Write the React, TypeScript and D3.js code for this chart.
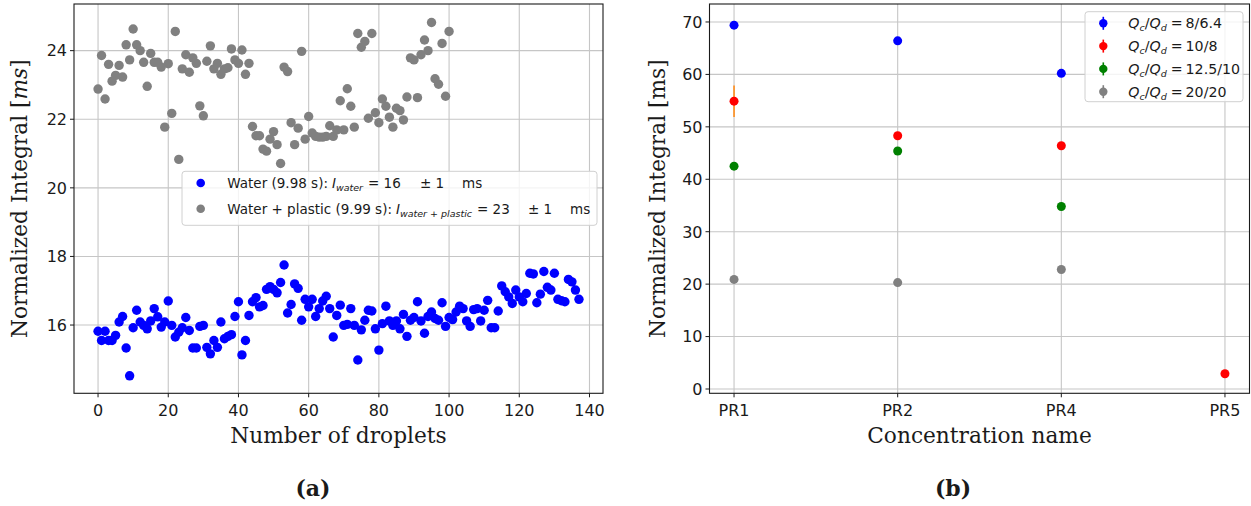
import React from 'react';
import * as d3 from 'd3';

// (a) normalized integral per droplet
const waterVals = [
  15.82, 15.55, 15.82, 15.55, 15.55, 15.7, 16.09, 16.25, 15.33, 14.52,
  15.92, 16.43, 16.09, 15.99, 15.89, 16.12, 16.48, 16.24, 15.94, 16.09,
  16.7, 15.99, 15.65, 15.79, 15.92, 16.22, 15.84, 15.33, 15.33, 15.96,
  15.99, 15.35, 15.16, 15.55, 15.35, 16.09, 15.6, 15.67, 15.72, 16.25,
  16.68, 15.13, 15.55, 16.28, 16.68, 16.8, 16.53, 16.57, 17.04, 17.12,
  17.04, 16.94, 17.24, 17.75, 16.35, 16.6, 17.2, 17.07, 16.14, 16.75,
  16.53, 16.75, 16.25, 16.48, 16.7, 16.84, 16.48, 15.65, 16.28, 16.58,
  15.99, 16.02, 16.48, 15.99, 14.98, 15.86, 16.14, 16.43, 16.41, 15.89,
  15.27, 16.04, 16.55, 16.12, 15.99, 16.12, 15.89, 16.31, 15.67, 16.14,
  16.22, 16.68, 16.12, 15.76, 16.25, 16.38, 16.19, 16.14, 16.65, 15.96,
  16.22, 16.16, 16.38, 16.55, 16.48, 16.12, 15.96, 16.45, 16.48, 16.12,
  16.43, 16.72, 15.92, 15.92, 16.41, 17.14, 16.97, 16.82, 16.63, 17.02,
  16.82, 16.68, 16.92, 17.51, 17.49, 16.65, 16.9, 17.56, 17.1, 17.02,
  17.51, 16.75, 16.71, 16.68, 17.33, 17.26, 17.02, 16.75,
];

const plasticVals = [
  22.88, 23.86, 22.59, 23.6, 23.11, 23.28, 23.57, 23.23, 24.17, 23.73,
  24.63, 24.17, 24.0, 23.66, 22.96, 23.92, 23.66, 23.66, 23.52, 21.77,
  23.62, 22.17, 24.56, 20.83, 23.47, 23.88, 23.37, 23.79, 23.63, 22.39,
  22.1, 23.69, 24.14, 23.47, 23.63, 23.31, 23.47, 23.5, 24.05, 23.73,
  23.63, 24.02, 23.31, 23.63, 21.79, 21.52, 21.52, 21.13, 21.07, 21.42,
  21.64, 21.26, 20.71, 23.52, 23.39, 21.9, 21.26, 21.74, 23.98, 21.42,
  22.08, 21.6, 21.5, 21.48, 21.48, 21.5, 21.81, 21.5, 21.69, 22.54,
  21.69, 22.89, 22.38, 21.77, 24.5, 24.1, 24.27, 22.03, 24.5, 22.19,
  21.9, 22.59, 22.38, 22.06, 21.77, 22.32, 22.25, 21.98, 22.65, 23.79,
  23.73, 22.63, 23.88, 24.31, 24.0, 24.82, 23.18, 23.02, 24.21, 22.67,
  24.56,
];

const dropletTicks = [0, 20, 40, 60, 80, 100, 120, 140];
const integralTicksA = [16, 18, 20, 22, 24];

// (b) normalized integral per concentration
const concNames = ['PR1', 'PR2', 'PR4', 'PR5'];
const flowLabels = ['8/6.4', '10/8', '12.5/10', '20/20'];
const flowColors = ['#0000ff', '#ff0000', '#008000', '#808080'];
const flow1Vals = [69.4, 66.4, 60.2, null];
const flow2Vals = [54.9, 48.3, 46.4, 2.9];
const flow3Vals = [42.5, 45.4, 34.8, null];
const flow4Vals = [20.9, 20.3, 22.8, null];
const flow1Err = [0.3, 0.3, 0.3, null];
const flow2Err = [3.0, 0.4, 0.3, 0.3];
const flow3Err = [0.3, 0.3, 0.3, null];
const flow4Err = [0.3, 0.3, 0.3, null];
const integralTicksB = [0, 10, 20, 30, 40, 50, 60, 70];

const SANS = 'DejaVu Sans, sans-serif';
const SERIF = 'DejaVu Serif, serif';
const GRID = '#c6c6c6';
const INK = '#1a1a1a';
const TICK_FS = 16;
const LABEL_FS = 21.7;

const ChartA = () => {
  const left = 74, right = 603, top = 4, bottom = 393.3;
  const x = d3.scaleLinear().domain([-6.85, 143.85]).range([left, right]);
  const y = d3.scaleLinear().domain([14.01, 25.36]).range([bottom, top]);

  return (
    <g>
      {dropletTicks.map(t => (
        <line key={'gx' + t} x1={x(t)} x2={x(t)} y1={top} y2={bottom} stroke={GRID} strokeWidth={1.1} />
      ))}
      {integralTicksA.map(t => (
        <line key={'gy' + t} x1={left} x2={right} y1={y(t)} y2={y(t)} stroke={GRID} strokeWidth={1.1} />
      ))}

      {waterVals.map((v, i) => (
        <circle key={'w' + i} cx={x(i)} cy={y(v)} r={4.7} fill="#0000ff" />
      ))}
      {plasticVals.map((v, i) => (
        <circle key={'p' + i} cx={x(i)} cy={y(v)} r={4.7} fill="#808080" />
      ))}

      <rect x={left} y={top} width={right - left} height={bottom - top} fill="none" stroke={INK} strokeWidth={1.1} />

      {dropletTicks.map(t => (
        <g key={'tx' + t}>
          <line x1={x(t)} x2={x(t)} y1={bottom} y2={bottom + 4} stroke={INK} />
          <text x={x(t)} y={bottom + 23} textAnchor="middle" fontFamily={SANS} fontSize={TICK_FS} fill={INK}>{t}</text>
        </g>
      ))}
      {integralTicksA.map(t => (
        <g key={'ty' + t}>
          <line x1={left - 4} x2={left} y1={y(t)} y2={y(t)} stroke={INK} />
          <text x={left - 7} y={y(t) + 5.8} textAnchor="end" fontFamily={SANS} fontSize={TICK_FS} fill={INK}>{t}</text>
        </g>
      ))}

      <text x={(left + right) / 2} y={443} textAnchor="middle" fontFamily={SERIF} fontSize={LABEL_FS} fill={INK}>Number of droplets</text>
      <text transform={`translate(27,${(top + bottom) / 2}) rotate(-90)`} textAnchor="middle" fontFamily={SERIF} fontSize={LABEL_FS} fill={INK}>
        Normalized Integral [<tspan fontStyle="italic">ms</tspan>]
      </text>

      {/* legend */}
      <rect x={182} y={171.3} width={415} height={54} rx={3} fill="#ffffff" fillOpacity={0.8} stroke="#d0d0d0" />
      <circle cx={200.7} cy={183} r={4.3} fill="#0000ff" />
      <circle cx={200.7} cy={208.7} r={4.3} fill="#808080" />
      <text y={188} fontFamily={SANS} fontSize={13.5} fill={INK}>
        <tspan x={227.3}>Water (9.98 s):</tspan>
        <tspan dx={4} fontStyle="italic">I</tspan>
        <tspan fontStyle="italic" fontSize={9.5} dy={3}>water</tspan>
        <tspan x={368} dy={-3}>= 16</tspan>
        <tspan x={420}>± 1</tspan>
        <tspan x={462}>ms</tspan>
      </text>
      <text y={213.7} fontFamily={SANS} fontSize={13.5} fill={INK}>
        <tspan x={227.3}>Water + plastic (9.99 s):</tspan>
        <tspan dx={4} fontStyle="italic">I</tspan>
        <tspan fontStyle="italic" fontSize={9.5} dy={3}>water + plastic</tspan>
        <tspan x={477} dy={-3}>= 23</tspan>
        <tspan x={528}>± 1</tspan>
        <tspan x={570}>ms</tspan>
      </text>
    </g>
  );
};

const ChartB = () => {
  const left = 709.5, right = 1249.5, top = 4, bottom = 393.3;
  const x = d3.scalePoint<string>().domain(concNames).range([left, right]).padding(0.15);
  const y = d3.scaleLinear().domain([-0.82, 73.43]).range([bottom, top]);

  const series = [
    { vals: flow1Vals, errs: flow1Err },
    { vals: flow2Vals, errs: flow2Err },
    { vals: flow3Vals, errs: flow3Err },
    { vals: flow4Vals, errs: flow4Err },
  ];

  return (
    <g>
      {concNames.map(c => (
        <line key={'gx' + c} x1={x(c)} x2={x(c)} y1={top} y2={bottom} stroke={GRID} strokeWidth={1.1} />
      ))}
      {integralTicksB.map(t => (
        <line key={'gy' + t} x1={left} x2={right} y1={y(t)} y2={y(t)} stroke={GRID} strokeWidth={1.1} />
      ))}

      {series.map((s, si) => (
        <g key={'s' + si}>
          {s.vals.map((v, i) => v == null ? null : (
            <g key={i}>
              <line x1={x(concNames[i])} x2={x(concNames[i])} y1={y(v - (s.errs[i] || 0))} y2={y(v + (s.errs[i] || 0))}
                stroke={si === 1 && i === 0 ? '#ff8c1a' : flowColors[si]} strokeWidth={1.6} />
              <circle cx={x(concNames[i])} cy={y(v)} r={4.5} fill={flowColors[si]} />
            </g>
          ))}
        </g>
      ))}

      <rect x={left} y={top} width={right - left} height={bottom - top} fill="none" stroke={INK} strokeWidth={1.1} />

      {concNames.map(c => (
        <g key={'tx' + c}>
          <line x1={x(c)} x2={x(c)} y1={bottom} y2={bottom + 4} stroke={INK} />
          <text x={x(c)} y={bottom + 23} textAnchor="middle" fontFamily={SANS} fontSize={TICK_FS} fill={INK}>{c}</text>
        </g>
      ))}
      {integralTicksB.map(t => (
        <g key={'ty' + t}>
          <line x1={left - 4} x2={left} y1={y(t)} y2={y(t)} stroke={INK} />
          <text x={left - 7} y={y(t) + 5.8} textAnchor="end" fontFamily={SANS} fontSize={TICK_FS} fill={INK}>{t}</text>
        </g>
      ))}

      <text x={(left + right) / 2} y={443} textAnchor="middle" fontFamily={SERIF} fontSize={LABEL_FS} fill={INK}>Concentration name</text>
      <text transform={`translate(665,${(top + bottom) / 2}) rotate(-90)`} textAnchor="middle" fontFamily={SERIF} fontSize={LABEL_FS} fill={INK}>
        Normalized Integral [ms]
      </text>

      {/* legend */}
      <rect x={1085} y={11.7} width={158} height={90} rx={3} fill="#ffffff" fillOpacity={0.8} stroke="#d0d0d0" />
      {flowLabels.map((lab, i) => {
        const ry = 23.3 + i * 22.8;
        return (
          <g key={'lg' + i}>
            <line x1={1103.3} x2={1103.3} y1={ry - 6.5} y2={ry + 6.5} stroke={flowColors[i]} strokeWidth={1.6} />
            <circle cx={1103.3} cy={ry} r={4.2} fill={flowColors[i]} />
            <text x={1128.3} y={ry + 5} fontFamily={SANS} fontSize={14.2} fill={INK}>
              <tspan fontStyle="italic">Q</tspan>
              <tspan fontStyle="italic" fontSize={9.5} dy={3}>c</tspan>
              <tspan dy={-3}>/</tspan>
              <tspan fontStyle="italic">Q</tspan>
              <tspan fontStyle="italic" fontSize={9.5} dy={3}>d</tspan>
              <tspan dy={-3} dx={4}>=</tspan>
              <tspan dx={3}>{lab}</tspan>
            </text>
          </g>
        );
      })}
    </g>
  );
};

export default function App() {
  return (
    <div style={{ position: 'fixed', left: 0, top: 0 }}>
      <svg width={1251} height={506} style={{ display: 'block', background: '#ffffff' }}>
        <ChartA />
        <ChartB />
        <text x={313} y={496} textAnchor="middle" fontFamily={SERIF} fontWeight="bold" fontSize={22} fill={INK}>(a)</text>
        <text x={953} y={496} textAnchor="middle" fontFamily={SERIF} fontWeight="bold" fontSize={22} fill={INK}>(b)</text>
      </svg>
    </div>
  );
}
